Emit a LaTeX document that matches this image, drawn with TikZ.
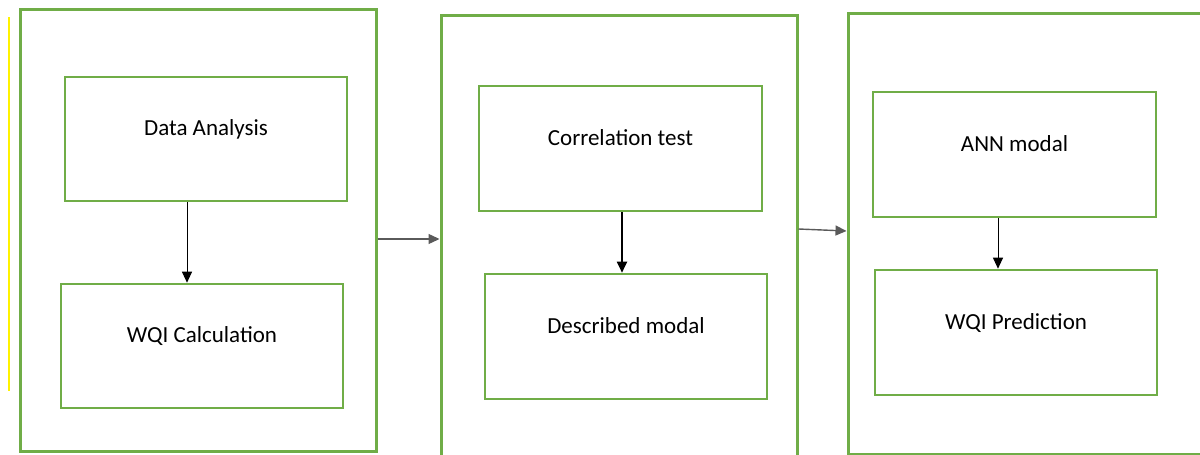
\documentclass[tikz,border=0pt]{standalone}
\usepackage{fontspec}
\setmainfont{Carlito}
\usetikzlibrary{arrows.meta, positioning}
\definecolor{officegreen}{RGB}{112,173,71}
\definecolor{linegray}{RGB}{90,90,90}

\begin{document}
\begin{tikzpicture}[x=1pt, y=-1pt,
        outer/.style={rectangle, draw=officegreen, line width=3pt, minimum width=356pt, inner sep=0pt},
        inner/.style={rectangle, draw=officegreen, line width=2.6pt, minimum width=282pt, minimum height=124pt,
            inner sep=0pt, font=\fontsize{23}{27}\selectfont, text height=16.5pt, text depth=23pt},
        flow/.style={-{Triangle[length=11pt, width=10pt]}, line width=1pt},
        link/.style={flow, draw=linegray, line width=1.4pt}
    ]
        \useasboundingbox (0,0) rectangle (1200,455);
        \clip (0,0) rectangle (1200,455);

        % Left stage
        \draw[yellow, line width=1.6pt] (9,17) -- (9,391);
        \node[outer, minimum height=442pt] (stage1) at (198,230) {};
        \node[inner] (analysis) at (206,139) {Data Analysis};
        \node[inner] (wqicalc) at (202,346) {WQI Calculation};
        \draw[flow] ([xshift=-19pt]analysis.south) -- ([xshift=-19pt]analysis.south |- wqicalc.north);

        % Middle stage
        \node[outer, minimum height=455pt] (stage2) at (619,242.5) {};
        \node[inner, minimum width=283pt, minimum height=125pt] (corr) at (620.5,148.5) {Correlation test};
        \node[inner, minimum height=125pt] (described) at (626,336.5) {Described modal};
        \draw[flow, line width=1.9pt] ([xshift=1.5pt]corr.south) -- ([xshift=1.5pt]corr.south |- described.north);

        % Right stage
        \node[outer, minimum width=367pt, minimum height=441pt] (stage3) at (1031.5,233.5) {};
        \node[inner, minimum width=283pt, minimum height=125pt] (ann) at (1014.5,154.5) {ANN modal};
        \node[inner, minimum height=125pt] (predict) at (1016,332.5) {WQI Prediction};
        \draw[flow] ([xshift=-16.5pt]ann.south) -- ([xshift=-16.5pt]ann.south |- predict.north);

        % Links between stages
        \draw[link] ([yshift=-9pt]stage1.east) -- ([yshift=-9pt]stage1.east -| stage2.west);
        \draw[link] ([yshift=13.5pt]stage2.east) -- ([yshift=2.5pt]stage3.west);
    \end{tikzpicture}
\end{document}
